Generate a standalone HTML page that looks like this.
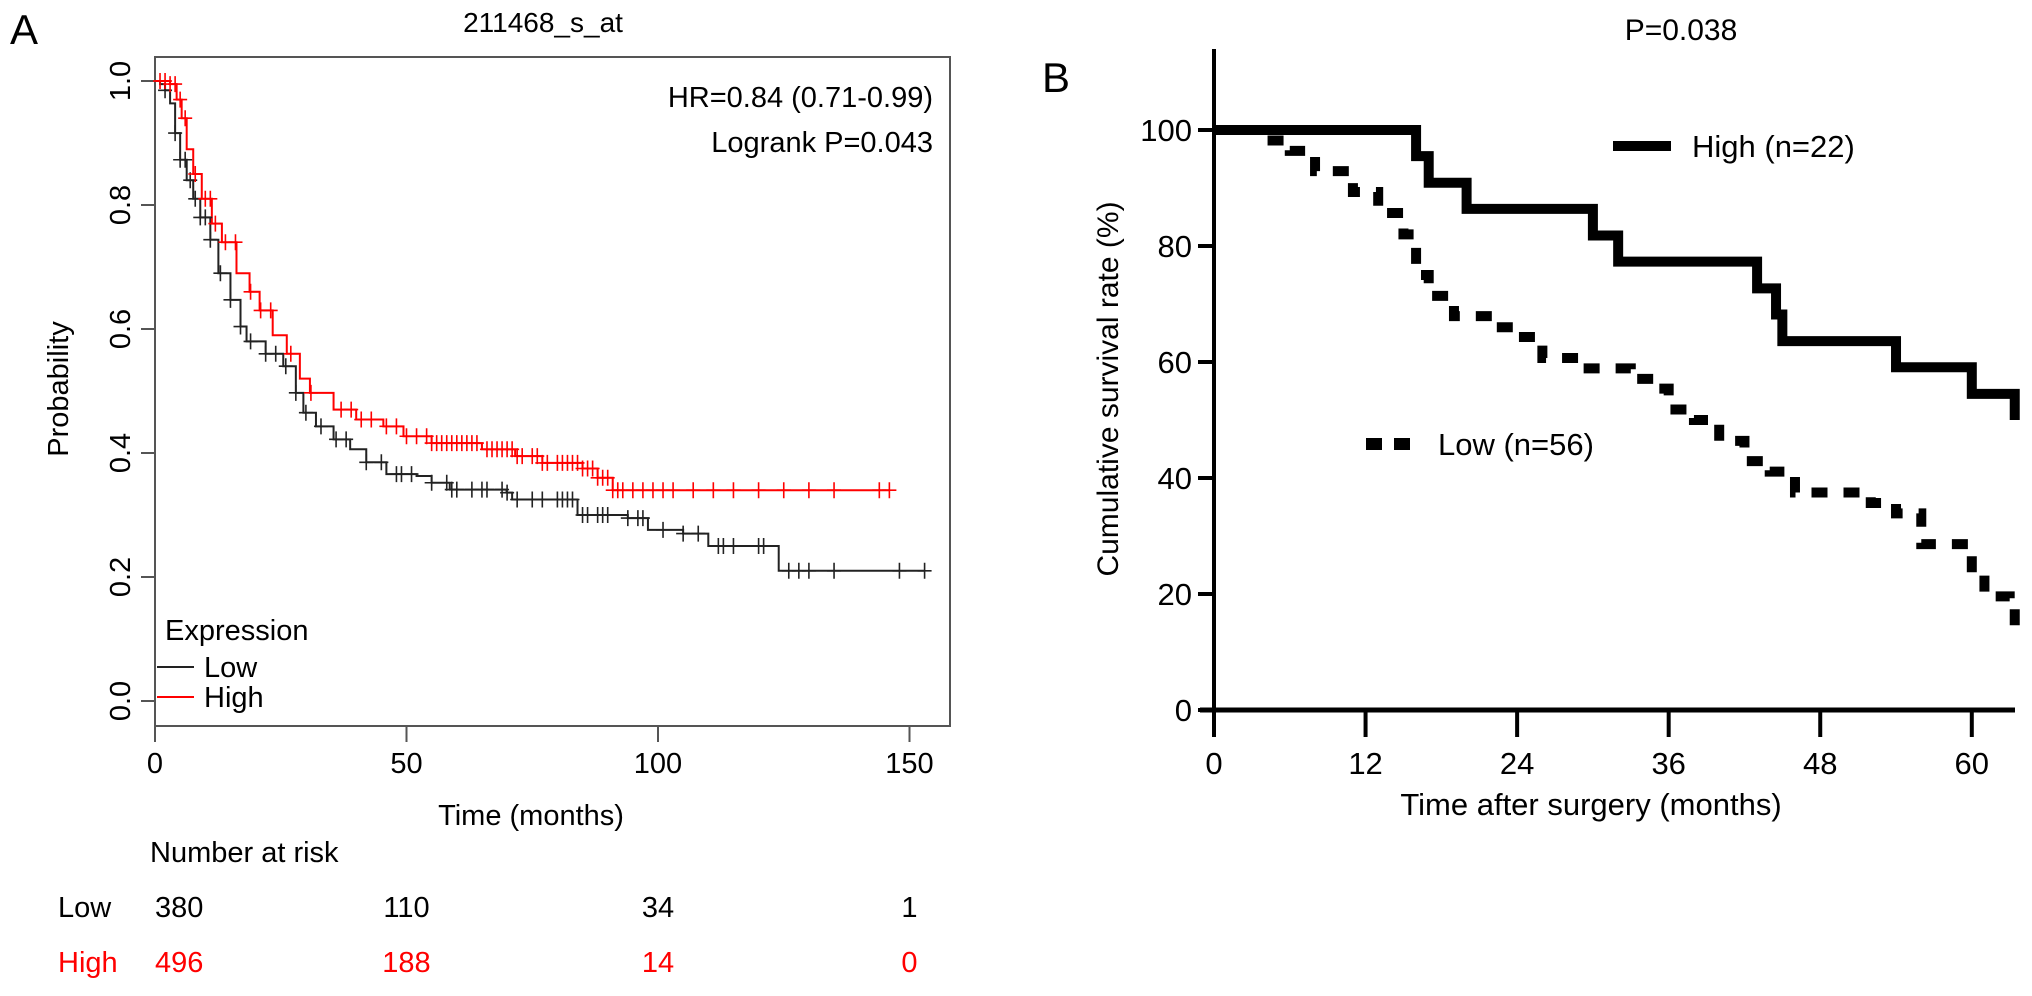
<!DOCTYPE html>
<html><head><meta charset="utf-8"><style>
html,body{margin:0;padding:0;background:#fff;}
svg{display:block;font-family:"Liberation Sans",Arial,sans-serif;}
</style></head><body>
<svg id="fig" width="2032" height="996" viewBox="0 0 2032 996" xmlns="http://www.w3.org/2000/svg">
<g id="pa">
<text x="10" y="44" font-size="42">A</text>
<text x="543" y="32" font-size="28" text-anchor="middle">211468_s_at</text>
<rect x="155" y="57" width="795" height="669" fill="none" stroke="#555" stroke-width="2"/>
<text x="933" y="107" font-size="29" text-anchor="end">HR=0.84 (0.71-0.99)</text>
<text x="933" y="152" font-size="29" text-anchor="end">Logrank P=0.043</text>
<text transform="translate(68,389) rotate(-90)" font-size="29" text-anchor="middle">Probability</text>
<text x="531" y="825" font-size="29" text-anchor="middle">Time (months)</text>
<text x="165" y="640" font-size="29">Expression</text>
<line x1="157" y1="667" x2="194" y2="667" stroke="#222" stroke-width="2"/>
<text x="204" y="677" font-size="29">Low</text>
<line x1="157" y1="697" x2="194" y2="697" stroke="#f00" stroke-width="2"/>
<text x="204" y="707" font-size="29">High</text>
<text x="150" y="862" font-size="29">Number at risk</text>
<text x="58" y="917" font-size="29">Low</text>
<text x="58" y="972" font-size="29" fill="#f00">High</text>
</g>
<g id="pb">
<text x="1042" y="92" font-size="42">B</text>
<text x="1681" y="40" font-size="30" text-anchor="middle">P=0.038</text>
<line x1="1214" y1="49" x2="1214" y2="712" stroke="#000" stroke-width="4"/>
<line x1="1200" y1="710" x2="2015" y2="710" stroke="#000" stroke-width="5"/>
<text transform="translate(1118,389) rotate(-90)" font-size="30" text-anchor="middle">Cumulative survival rate (%)</text>
<text x="1591" y="815" font-size="31" text-anchor="middle">Time after surgery (months)</text>
<line x1="1613" y1="146" x2="1671" y2="146" stroke="#000" stroke-width="10"/>
<text x="1692" y="157" font-size="31">High (n=22)</text>
<line x1="1366" y1="444" x2="1414" y2="444" stroke="#000" stroke-width="12" stroke-dasharray="16 12"/>
<text x="1438" y="455" font-size="31">Low (n=56)</text>
</g>
</svg>
<script>
// Panel A data
const aXTicks = [0, 50, 100, 150];
const aYTicks = [0.0, 0.2, 0.4, 0.6, 0.8, 1.0];
const aLowT = [0,1,2,3,4,5,6.3,7.6,9,11,12.6,15,17,18.2,22,25.5,28,29.5,32,35.5,38.8,42,46,52,55,58.6,69.9,71,78.5,84,94,98,105,110,123,124,153];
const aLowS = [1.0,0.995,0.985,0.964,0.916,0.873,0.84,0.81,0.78,0.744,0.69,0.647,0.604,0.58,0.56,0.54,0.497,0.465,0.443,0.422,0.406,0.385,0.366,0.363,0.352,0.341,0.336,0.325,0.325,0.30,0.295,0.276,0.27,0.25,0.25,0.21,0.21];
const aHighT = [0,2,3,4.3,5.3,6.3,7.6,9.3,11.3,13.3,16.2,18.8,20.8,23.4,26.2,28.8,30.8,35.5,40,45.4,49.4,55,65,71.6,77,85,88,91,146];
const aHighS = [1.0,1.0,0.995,0.97,0.94,0.89,0.85,0.81,0.77,0.74,0.69,0.66,0.63,0.59,0.56,0.52,0.497,0.47,0.454,0.443,0.427,0.416,0.406,0.395,0.384,0.375,0.36,0.34,0.34];
const aLowCens = [2,4,5,6,7,8,9,10,11,13,15,17,19,22,24,26,28,30,33,36,38,42,45,48,49,51,55,58,59,60,63,65,66,69,70,72,75,77,80,81,82,83,85,86,88,89,90,94,96,97,101,105,108,112,113,115,120,121,126,128,130,135,148,153];
const aHighCens = [1,2,3,4,5,6,8,10,11,12,14,16,19,21,23,27,31,37,39,41,43,46,48,50,52,54,55,56,57,58,59,60,61,62,63,64,66,67,68,69,70,71,72,73,75,76,77,78,80,81,82,83,84,85,86,87,88,89,90,91,92,93,95,97,99,101,103,107,111,115,120,125,130,135,144,146];
const riskLow = [380, 110, 34, 1];
const riskHigh = [496, 188, 14, 0];
// Panel B data
const bXTicks = [0, 12, 24, 36, 48, 60];
const bYTicks = [0, 20, 40, 60, 80, 100];
const bHighT = [0,16,17,20,30,32,43,44.5,45,54,60,63.4];
const bHighS = [100,95.5,90.9,86.4,81.8,77.3,72.7,68.2,63.6,59.1,54.5,50];
const bLowT = [0,4,6,8,11,13,15,16,17,19,22,24,26,29,33,35,36,38,40,42,44,46,52,54,56,59,60,61,63,63.4];
const bLowS = [100,98.2,96.4,92.9,89.3,85.7,82,75,71.4,67.9,66,64.3,60.7,58.9,57.1,55.4,51.8,50,46.4,42.9,41.1,37.5,35.7,33.9,28.6,28.6,23.2,19.6,17.9,14.3];

const NS = 'http://www.w3.org/2000/svg';
const pa = document.getElementById('pa');
const pb = document.getElementById('pb');
const ax = t => 155 + t * 5.03;
const ay = p => 701 - p * 620;
const bx = t => 1214 + t * 12.63;
const by = v => 710 - v * 5.8;

function mk(tag, attrs, parent, text) {
  const el = document.createElementNS(NS, tag);
  for (const k in attrs) el.setAttribute(k, attrs[k]);
  if (text !== undefined) el.textContent = text;
  parent.appendChild(el);
  return el;
}
function stepPath(T, S, fx, fy) {
  let d = 'M' + fx(T[0]) + ',' + fy(S[0]);
  for (let i = 1; i < T.length; i++) {
    d += ' H' + fx(T[i]) + ' V' + fy(S[i]);
  }
  return d;
}
function stepVal(T, S, t) {
  let v = S[0];
  for (let i = 0; i < T.length; i++) { if (T[i] <= t) v = S[i]; }
  return v;
}

aXTicks.forEach(t => {
  const l = mk('line', {x1: ax(t), y1: 726, x2: ax(t), y2: 742, stroke: '#555', 'stroke-width': 2}, pa);
  
  
  const tx = mk('text', {x: ax(t), y: 773, 'font-size': 29, 'text-anchor': 'middle'}, pa, String(t));
  
  
});
aYTicks.forEach(p => {
  const l = mk('line', {x1: 141, y1: ay(p), x2: 155, y2: ay(p), stroke: '#555', 'stroke-width': 2}, pa);
  
  
  const tx = mk('text', {transform: 'translate(' + 130 + ',' + ay(p) + ') rotate(-90)', 'font-size': 29, 'text-anchor': 'middle'}, pa, p.toFixed(1));
  
  
});
aXTicks.forEach((t, i) => {
  const a = mk('text', {x: ax(t), y: 917, 'font-size': 29, 'text-anchor': i === 0 ? 'start' : 'middle'}, pa, String(riskLow[i]));
  
  
  const b = mk('text', {x: ax(t), y: 972, 'font-size': 29, fill: '#f00', 'text-anchor': i === 0 ? 'start' : 'middle'}, pa, String(riskHigh[i]));
  
  
});
const lowA = mk('path', {d: stepPath(aLowT, aLowS, ax, ay), fill: 'none', stroke: '#222', 'stroke-width': 2}, pa);


const highA = mk('path', {d: stepPath(aHighT, aHighS, ax, ay), fill: 'none', stroke: '#f00', 'stroke-width': 2}, pa);


aLowCens.forEach(t => {
  const y = ay(stepVal(aLowT, aLowS, t));
  const c = mk('path', {d: 'M' + (ax(t) - 7) + ',' + y + 'H' + (ax(t) + 7) + 'M' + ax(t) + ',' + (y - 8) + 'V' + (y + 8), stroke: '#222', 'stroke-width': 1.6}, pa);
  
  
});
aHighCens.forEach(t => {
  const y = ay(stepVal(aHighT, aHighS, t));
  const c = mk('path', {d: 'M' + (ax(t) - 7) + ',' + y + 'H' + (ax(t) + 7) + 'M' + ax(t) + ',' + (y - 8) + 'V' + (y + 8), stroke: '#f00', 'stroke-width': 1.6}, pa);
  
  
});

bXTicks.forEach(t => {
  const l = mk('line', {x1: bx(t), y1: 710, x2: bx(t), y2: 737, stroke: '#000', 'stroke-width': 4}, pb);
  
  
  const tx = mk('text', {x: bx(t), y: 774, 'font-size': 31, 'text-anchor': 'middle'}, pb, String(t));
  
  
});
bYTicks.forEach(v => {
  const l = mk('line', {x1: 1198, y1: by(v), x2: 1214, y2: by(v), stroke: '#000', 'stroke-width': 4}, pb);
  
  
  const tx = mk('text', {x: 1192, y: by(v) + 11, 'font-size': 31, 'text-anchor': 'end'}, pb, String(v));
  
  
});
const highB = mk('path', {d: stepPath(bHighT, bHighS, bx, by), fill: 'none', stroke: '#000', 'stroke-width': 10}, pb);


const lowB = mk('path', {d: stepPath(bLowT, bLowS, bx, by), fill: 'none', stroke: '#000', 'stroke-width': 10, 'stroke-dasharray': '16 16'}, pb);


</script>
</body></html>
